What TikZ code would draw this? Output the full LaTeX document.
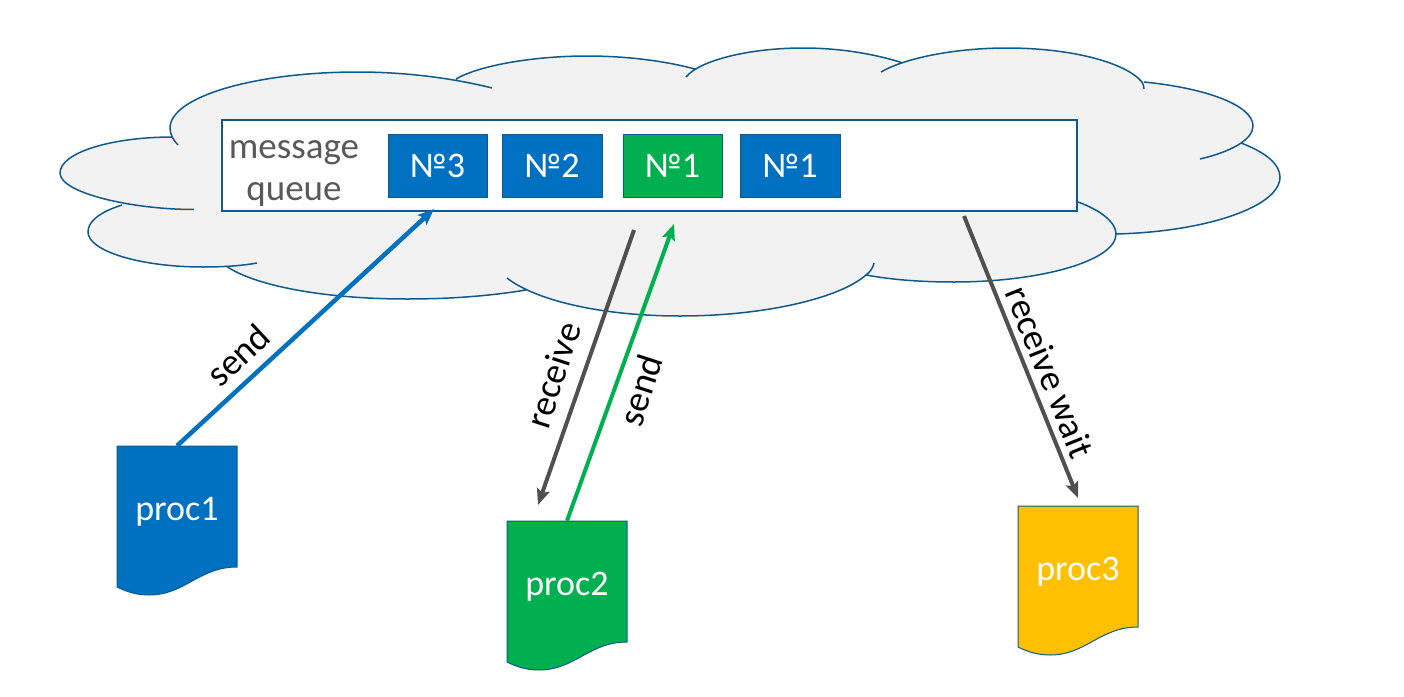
\documentclass[tikz,border=0pt]{standalone}
\usepackage{fontspec}
\setmainfont{Carlito}
\usetikzlibrary{arrows.meta}
\definecolor{edgeblue}{HTML}{0F5A8C}
\definecolor{cloudgrey}{HTML}{F2F2F2}
\definecolor{procblue}{HTML}{0070C0}
\definecolor{procgreen}{HTML}{00B050}
\definecolor{procyellow}{HTML}{FFC000}
\definecolor{darkline}{HTML}{505050}
\definecolor{greytext}{HTML}{595959}
\newcommand\lobes{
 (178,145) .. controls (173,140) and (170,134) .. (170,128) .. controls (170,97) and (254,72) .. (358,72) .. controls (405,72) and (452,78) .. (492,88)
 (456,79) .. controls (480,65) and (535,56) .. (587,56) .. controls (627,56) and (665,61) .. (695,69)
 (686,77) .. controls (700,60) and (750,48) .. (803,48) .. controls (840,48) and (875,54) .. (903,63)
 (881,72) .. controls (905,58) and (955,48) .. (1007,48) .. controls (1070,48) and (1125,62) .. (1142,82) .. controls (1143,84) and (1144,86) .. (1144,89)
 (1144,82) .. controls (1205,88) and (1253,105) .. (1253,126) .. controls (1253,140) and (1230,152) .. (1200,159)
 (1241,143) .. controls (1265,152) and (1280,164) .. (1280,177) .. controls (1280,207) and (1205,232) .. (1115,234)
 (1078,202) .. controls (1100,210) and (1116,222) .. (1116,234) .. controls (1116,261) and (1040,282) .. (954,282) .. controls (923,282) and (893,280) .. (866,275)
 (874,263) .. controls (873,268) and (870,272) .. (866,275) .. controls (840,298) and (765,316) .. (680,316) .. controls (600,316) and (535,300) .. (507,278)
 (526,290) .. controls (490,296) and (450,299) .. (407,299) .. controls (325,299) and (255,286) .. (226,266)
 (257,263) .. controls (240,266) and (222,267) .. (203,267) .. controls (140,267) and (88,251) .. (88,232) .. controls (88,221) and (100,212) .. (122,205)
 (194,209.5) .. controls (132,209.5) and (60,193) .. (60,173) .. controls (60,153) and (110,137) .. (173,137)
}
\newcommand\docshape[5]{
 \fill[#4,draw=edgeblue,line width=1pt] (#2,#3) -- (#2+120,#3) -- (#2+120,#3+121)
   .. controls (#2+82,#3+121) and (#2+68,#3+149) .. (#2+32,#3+149)
   .. controls (#2+20,#3+149) and (#2+10,#3+146) .. (#2,#3+141) -- cycle;
 \node[docbox] (#1) at (#2+60,#3+60.5) {\raisebox{-13.5pt}[0pt][0pt]{#5}};
}
\tikzset{
 docbox/.style={minimum width=120pt,minimum height=121pt,inner sep=0pt,text=white,font=\fontsize{36}{40}\selectfont},
 msgbox/.style={minimum width=99pt,minimum height=63pt,inner sep=0pt,draw=edgeblue,line width=1pt,text=white,font=\fontsize{36}{40}\selectfont},
 flow/.style={line width=#1,-{Stealth[length=16pt,width=13pt,inset=3pt]}},
 flow/.default=4pt,
 lab/.style={text=black,font=\fontsize{37}{40}\selectfont,inner sep=0pt}
}
\begin{document}
\begin{tikzpicture}[x=1pt,y=-1pt]
\useasboundingbox (0,0) rectangle (1404,696);
\fill[cloudgrey] \lobes (178,145) -- (173,137) -- (358,76) -- (456,79) -- (587,60) -- (695,69) -- (803,52) -- (903,63) -- (1007,52) -- (1144,85) -- (1241,143) -- (1115,234) -- (954,278) -- (866,275) -- (680,312) -- (526,290) -- (407,295) -- (226,266) -- (122,205) -- cycle;
\draw[edgeblue,line width=1.5pt] \lobes;
\node[draw=edgeblue,fill=white,line width=2pt,minimum width=855pt,minimum height=91pt,inner sep=0pt] (queue) at (649.5,165.5) {};
\node[text=greytext,font=\fontsize{37}{42}\selectfont,align=center,inner sep=0pt] (qlabel) at (294,173) {message\\queue};
\node[msgbox,fill=procblue] (m3) at (437.5,166) {№3};
\node[msgbox,fill=procblue,minimum width=100pt] (m2) at (552,166) {№2};
\node[msgbox,fill=procgreen] (m1g) at (672.5,166) {№1};
\node[msgbox,fill=procblue,minimum width=100pt] (m1b) at (790,166) {№1};
\docshape{proc1}{117}{446}{procblue}{proc1}
\docshape{proc2}{507}{521}{procgreen}{proc2}
\docshape{proc3}{1018}{506}{procyellow}{proc3}
\coordinate (a1) at (434,209);
\coordinate (r1) at (634,230);
\coordinate (r2) at (538,505);
\coordinate (g1) at (674,224);
\coordinate (w1) at (964,216);
\coordinate (w2) at (1078,498);
\draw[flow=4.5pt,procblue] (proc1.north) -- (a1);
\draw[flow,darkline] (r1) -- (r2);
\draw[flow=4pt,procgreen] (proc2.north) -- (g1);
\draw[flow,darkline] (w1) -- (w2);
\node[lab,rotate=43] (l1) at (238,355) {send};
\node[lab,rotate=72] (l2) at (553,375) {receive};
\node[lab,rotate=72] (l3) at (640,390) {send};
\node[lab,rotate=-68] (l4) at (1050,372) {receive wait};
\end{tikzpicture}
\end{document}
